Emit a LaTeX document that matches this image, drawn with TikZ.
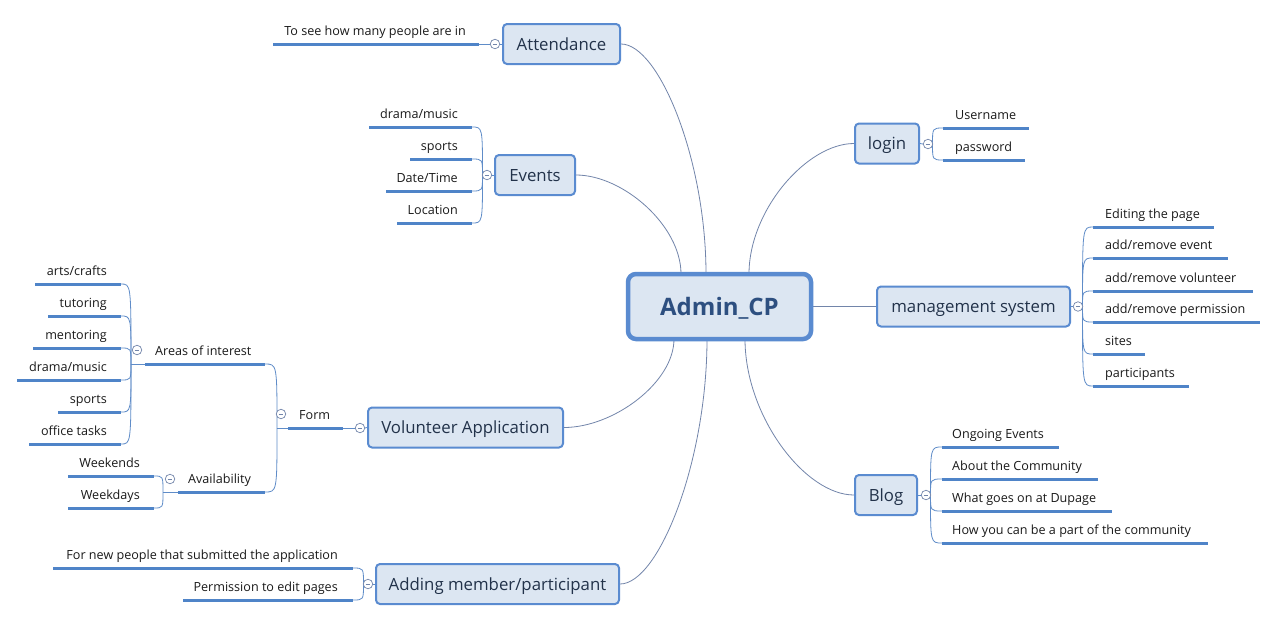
\documentclass[tikz,border=0pt]{standalone}
\usepackage{fontspec}
\setmainfont{Open Sans}
\usetikzlibrary{backgrounds,calc}
\definecolor{boxfill}{HTML}{DCE6F2}
\definecolor{boxline}{HTML}{5A8BD0}
\definecolor{ulcol}{HTML}{4F84C8}
\definecolor{conncol}{HTML}{7285AA}
\definecolor{brcol}{HTML}{5F8CC8}
\definecolor{topictext}{HTML}{22324A}
\definecolor{centertext}{HTML}{2D4F80}
\definecolor{leaftext}{HTML}{1A1A1A}
\begin{document}
\begin{tikzpicture}[x=1pt,y=-1pt,
  topic/.style={draw=boxline, fill=boxfill, line width=2pt, rounded corners=4pt, inner sep=0pt,
    font=\fontsize{16.8}{16.8}\selectfont, text=topictext, text height=14pt, text depth=2pt, minimum height=40pt},
  central/.style={draw=boxline, fill=boxfill, line width=4.5pt, rounded corners=8pt, inner sep=0pt,
    font=\fontsize{24}{24}\selectfont\bfseries, text=centertext, text height=19pt, text depth=1pt,
    minimum width=183pt, minimum height=65pt},
  collapse/.style={circle, draw=conncol, fill=white, line width=.7pt, minimum size=9.5pt, inner sep=0pt,
    path picture={\draw[conncol, line width=.6pt] ([xshift=-2.4pt]path picture bounding box.center) -- ([xshift=2.4pt]path picture bounding box.center);}},
  leaf/.style={inner sep=0pt, font=\fontsize{12.6}{12.6}\selectfont, text=leaftext},
  uln/.style={draw=ulcol, line width=3pt},
  mainlink/.style={draw=conncol, line width=.8pt},
  brlink/.style={draw=brcol, line width=.8pt}
]
\useasboundingbox (0,0) rectangle (1278,622);

% ---------- central and main topics ----------
\node[central] (c) at (719.5,306.5) {Admin\_CP};
\node[topic, minimum width=117pt] (att) at (561.5,44) {Attendance};
\node[topic, minimum width=80pt] (evt) at (535,175) {Events};
\node[topic, minimum width=64pt] (login) at (887,143.5) {login};
\node[topic, minimum width=193pt] (mgmt) at (973.5,306.5) {management system};
\node[topic, minimum width=195pt] (vol) at (465.5,427.5) {Volunteer Application};
\node[topic, minimum width=62pt] (blog) at (886,495) {Blog};
\node[topic, minimum width=243pt] (add) at (497.5,584) {Adding member/participant};

\coordinate (cT1) at (706,274);
\coordinate (cT2) at (681,274);
\coordinate (cT3) at (749,274);
\coordinate (cB1) at (674,339);
\coordinate (cB2) at (707,339);
\coordinate (cB3) at (745,339);

% ---------- collapse buttons ----------
\node[collapse] (ca) at (495,44) {};
\node[collapse] (ce) at (487,175) {};
\node[collapse] (cl) at (928,144) {};
\node[collapse] (cm) at (1078,306.5) {};
\node[collapse] (cb) at (926,495) {};
\node[collapse] (cv) at (360,428) {};
\node[collapse] (cad) at (368,584) {};
\node[collapse] (cf) at (281,414) {};
\node[collapse] (cai) at (137,350) {};
\node[collapse] (cav) at (170,479) {};

% ---------- leaf texts ----------
% Attendance
\node[leaf, anchor=base east] (a1) at (466,35) {To see how many people are in};
% Events
\node[leaf, anchor=base east] (e1) at (458,118) {drama/music};
\node[leaf, anchor=base east] (e2) at (458,150) {sports};
\node[leaf, anchor=base east] (e3) at (458,182) {Date/Time};
\node[leaf, anchor=base east] (e4) at (458,214) {Location};
% login
\node[leaf, anchor=base west] (l1) at (955,119) {Username};
\node[leaf, anchor=base west] (l2) at (955,151) {password};
% management
\node[leaf, anchor=base west] (m1) at (1105,218) {Editing the page};
\node[leaf, anchor=base west] (m2) at (1105,249) {add/remove event};
\node[leaf, anchor=base west] (m3) at (1105,282) {add/remove volunteer};
\node[leaf, anchor=base west] (m4) at (1105,313) {add/remove permission};
\node[leaf, anchor=base west] (m5) at (1105,345) {sites};
\node[leaf, anchor=base west] (m6) at (1105,377) {participants};
% Blog
\node[leaf, anchor=base west] (b1) at (952,438) {Ongoing Events};
\node[leaf, anchor=base west] (b2) at (952,470) {About the Community};
\node[leaf, anchor=base west] (b3) at (952,502) {What goes on at Dupage};
\node[leaf, anchor=base west] (b4) at (952,534) {How you can be a part of the community};
% Volunteer
\node[leaf, anchor=base west] (form) at (299,419) {Form};
\node[leaf, anchor=base west] (areas) at (155,355) {Areas of interest};
\node[leaf, anchor=base west] (avail) at (188,483) {Availability};
\node[leaf, anchor=base east] (i1) at (107,275) {arts/crafts};
\node[leaf, anchor=base east] (i2) at (107,307) {tutoring};
\node[leaf, anchor=base east] (i3) at (107,339) {mentoring};
\node[leaf, anchor=base east] (i4) at (107,371) {drama/music};
\node[leaf, anchor=base east] (i5) at (107,403) {sports};
\node[leaf, anchor=base east] (i6) at (107,435) {office tasks};
\node[leaf, anchor=base east] (w1) at (140,467) {Weekends};
\node[leaf, anchor=base east] (w2) at (140,499) {Weekdays};
% Adding
\node[leaf, anchor=base east] (d1) at (338,559) {For new people that submitted the application};
\node[leaf, anchor=base east] (d2) at (338,591) {Permission to edit pages};

% ---------- underline end points ----------
\coordinate (ua1) at (479,44);
\coordinate (ue1) at (472,127); \coordinate (ue2) at (472,159);
\coordinate (ue3) at (472,191); \coordinate (ue4) at (472,223);
\coordinate (ul1) at (943,128); \coordinate (ul2) at (943,160);
\coordinate (um1) at (1093,227); \coordinate (um2) at (1093,258);
\coordinate (um3) at (1093,291); \coordinate (um4) at (1093,322);
\coordinate (um5) at (1093,354); \coordinate (um6) at (1093,386);
\coordinate (ub1) at (942,447); \coordinate (ub2) at (942,479);
\coordinate (ub3) at (942,511); \coordinate (ub4) at (942,543);
\coordinate (uform) at (343,428); \coordinate (uformL) at (288,428);
\coordinate (uareas) at (265,364); \coordinate (uareasL) at (145,364);
\coordinate (uavail) at (265,492); \coordinate (uavailL) at (178,492);
\coordinate (ui1) at (121,284); \coordinate (ui2) at (121,316);
\coordinate (ui3) at (121,348); \coordinate (ui4) at (121,380);
\coordinate (ui5) at (121,412); \coordinate (ui6) at (121,444);
\coordinate (uw1) at (154,476); \coordinate (uw2) at (154,508);
\coordinate (ud1) at (353,568); \coordinate (ud2) at (353,600);

% fork points
\coordinate (fe) at (482.5,175);
\coordinate (fl) at (932.5,144);
\coordinate (fm) at (1082.5,306.5);
\coordinate (fb) at (930.5,495);
\coordinate (ff) at (277,428);
\coordinate (fa) at (131,364);
\coordinate (fv) at (163,492);
\coordinate (fd) at (363.5,584);

\begin{scope}[on background layer]
\fill[white] (0,0) rectangle (1278,622);
% main links
\draw[mainlink] (att.east) .. controls +(38,0) and +(0,-114) .. (cT1);
\draw[mainlink] (evt.east) .. controls +(47,0) and +(0,-48.5) .. (cT2);
\draw[mainlink] (login.west) .. controls +(-47,0) and +(0,-64) .. (cT3);
\draw[mainlink] (c.east) -- (mgmt.west);
\draw[mainlink] (vol.east) .. controls +(49.5,0) and +(0,43.5) .. (cB1);
\draw[mainlink] (blog.west) .. controls +(-49,0) and +(0,77) .. (cB3);
\draw[mainlink] (add.east) .. controls +(39,0) and +(0,121.5) .. (cB2);

% topic to collapse button
\draw[brlink] (att.west) -- (ca.east);
\draw[brlink] (evt.west) -- (ce.east);
\draw[brlink] (login.east) -- (cl.west);
\draw[brlink] (mgmt.east) -- (cm.west);
\draw[brlink] (blog.east) -- (cb.west);
\draw[brlink] (vol.west) -- (cv.east);
\draw[brlink] (add.west) -- (cad.east);

% underlines
\draw[uln] (273,44) -- (ua1);
\draw[uln] (369,127) -- (ue1);
\draw[uln] (410,159) -- (ue2);
\draw[uln] (386,191) -- (ue3);
\draw[uln] (397,223) -- (ue4);
\draw[uln] (ul1) -- (1029,128);
\draw[uln] (ul2) -- (1025,160);
\draw[uln] (um1) -- (1214,227);
\draw[uln] (um2) -- (1228,258);
\draw[uln] (um3) -- (1253,291);
\draw[uln] (um4) -- (1260,322);
\draw[uln] (um5) -- (1145,354);
\draw[uln] (um6) -- (1189,386);
\draw[uln] (ub1) -- (1059,447);
\draw[uln] (ub2) -- (1098,479);
\draw[uln] (ub3) -- (1112,511);
\draw[uln] (ub4) -- (1208,543);
\draw[uln] (uformL) -- (uform);
\draw[uln] (uareasL) -- (uareas);
\draw[uln] (uavailL) -- (uavail);
\draw[uln] (35,284) -- (ui1);
\draw[uln] (48,316) -- (ui2);
\draw[uln] (33,348) -- (ui3);
\draw[uln] (17,380) -- (ui4);
\draw[uln] (58,412) -- (ui5);
\draw[uln] (29,444) -- (ui6);
\draw[uln] (68,476) -- (uw1);
\draw[uln] (68,508) -- (uw2);
\draw[uln] (53,568) -- (ud1);
\draw[uln] (183,600) -- (ud2);

% branch links
\draw[brlink] (ca.west) -- (ua1);
\foreach \u in {ue1,ue2,ue3,ue4}{\draw[brlink] (fe) .. controls (fe |- \u) .. (\u);}
\foreach \u in {ul1,ul2}{\draw[brlink] (fl) .. controls (fl |- \u) .. (\u);}
\foreach \u in {um1,um2,um3,um4,um5,um6}{\draw[brlink] (fm) .. controls (fm |- \u) .. (\u);}
\foreach \u in {ub1,ub2,ub3,ub4}{\draw[brlink] (fb) .. controls (fb |- \u) .. (\u);}
\draw[brlink] (cv.west) -- (uform);
\draw[brlink] (uformL) -- (ff);
\foreach \u in {uareas,uavail}{\draw[brlink] (ff) .. controls (ff |- \u) .. (\u);}
\draw[brlink] (uareasL) -- (fa);
\foreach \u in {ui1,ui2,ui3,ui4,ui5,ui6}{\draw[brlink] (fa) .. controls (fa |- \u) .. (\u);}
\draw[brlink] (uavailL) -- (fv);
\foreach \u in {uw1,uw2}{\draw[brlink] (fv) .. controls (fv |- \u) .. (\u);}
\foreach \u in {ud1,ud2}{\draw[brlink] (fd) .. controls (fd |- \u) .. (\u);}
\end{scope}
\end{tikzpicture}
\end{document}
